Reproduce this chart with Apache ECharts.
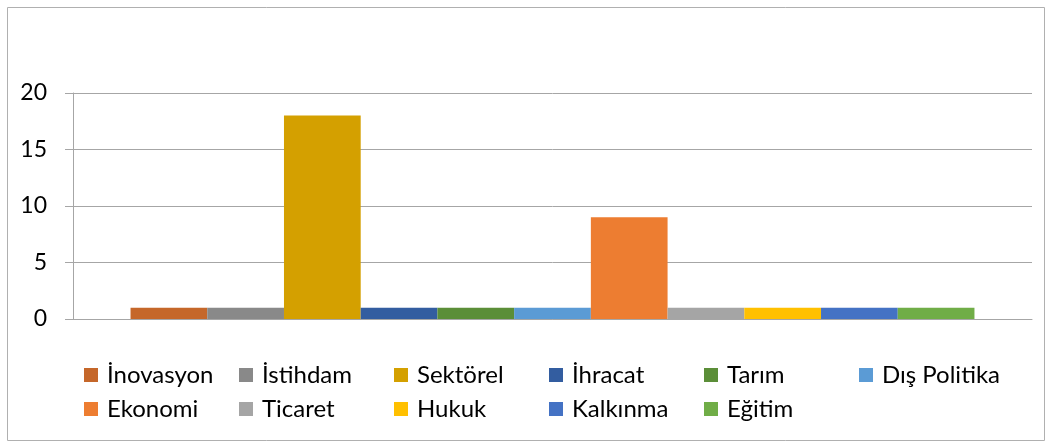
<!DOCTYPE html>
<html>
<head>
<meta charset="utf-8">
<script src="https://cdn.jsdelivr.net/npm/echarts@6/dist/echarts.min.js"></script>
<style>
  html, body { margin: 0; padding: 0; background: #fff; }
  #chart { width: 1052px; height: 448px; }
</style>
</head>
<body>
<div id="chart"></div>
<script>
// one bar per topic, all in a single category
const topics = ['İnovasyon', 'İstihdam', 'Sektörel', 'İhracat', 'Tarım', 'Dış Politika',
    'Ekonomi', 'Ticaret', 'Hukuk', 'Kalkınma', 'Eğitim'];
const counts = [1, 1, 18, 1, 1, 1, 9, 1, 1, 1, 1];
const colors = ['#c5672a', '#898989', '#d4a000', '#335da0', '#5b8e38', '#5b9bd5',
    '#ed7d31', '#a5a5a5', '#ffc000', '#4472c4', '#70ad47'];
const yTicks = [0, 5, 10, 15, 20];

const chart = echarts.init(document.getElementById('chart'));

const series = topics.map((name, i) => ({
    name: name,
    type: 'bar',
    data: [counts[i]],
    barGap: '0%',
    barCategoryGap: '12%',
    itemStyle: { color: colors[i] }
}));

const legendRow = (names, top) => ({
    data: names,
    left: 84,
    top: top,
    padding: 0,
    itemWidth: 14,
    itemHeight: 14,
    itemGap: 20,
    icon: 'rect',
    textStyle: {
        fontFamily: 'Lato',
        fontSize: 24,
        color: '#000',
        width: 112,
        lineHeight: 26,
        padding: [0, 0, 0, 4]
    }
});

const option = {
    animation: false,
    color: colors,
    graphic: [{
        type: 'rect',
        shape: { x: 7.5, y: 7.5, width: 1037, height: 433 },
        style: { fill: 'none', stroke: '#b0b0b0', lineWidth: 1 }
    }],
    grid: { left: 73, right: 20, top: 93, bottom: 129 },
    legend: [
        legendRow(topics.slice(0, 6), 362),
        legendRow(topics.slice(6), 396)
    ],
    xAxis: {
        type: 'category',
        data: [''],
        axisTick: { show: false },
        axisLabel: { show: false },
        axisLine: { lineStyle: { color: '#a6a6a6', width: 1 } }
    },
    yAxis: {
        type: 'value',
        min: yTicks[0],
        max: yTicks[yTicks.length - 1],
        interval: 5,
        axisLine: { show: true, lineStyle: { color: '#a6a6a6' } },
        axisTick: { show: true, length: 8, lineStyle: { color: '#a6a6a6' } },
        axisLabel: { fontFamily: 'Lato', fontSize: 23, color: '#000', margin: 26 },
        splitLine: { lineStyle: { color: '#a6a6a6' } }
    },
    series: series
};

chart.setOption(option);
window.addEventListener('resize', () => chart.resize());
</script>
</body>
</html>
